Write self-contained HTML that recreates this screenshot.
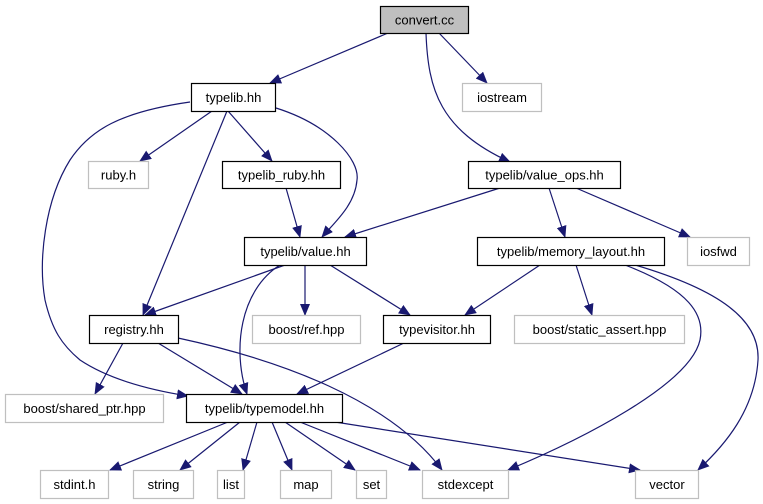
<!DOCTYPE html>
<html><head><meta charset="utf-8"><style>
html,body{margin:0;padding:0;background:#fff;}
svg{display:block;}
text{font-family:"Liberation Sans",sans-serif;font-size:13px;fill:#000;}
</style></head><body>
<svg width="763" height="504" viewBox="0 0 763 504" xmlns="http://www.w3.org/2000/svg">
<defs>
<marker id="a" markerWidth="12" markerHeight="10" refX="11" refY="5" orient="auto" markerUnits="userSpaceOnUse">
<polygon points="0,0 12,5 0,10" fill="#191970"/>
</marker>
</defs>
<g fill="none" stroke="#191970" stroke-width="1.2" marker-end="url(#a)">
<path d="M388,33 L270,83"/>
<path d="M439,33 L487,83"/>
<path d="M426,33 C428,90 440,130 510,162"/>
<path d="M212,111 L140,161"/>
<path d="M228,111 L272,161"/>
<path d="M276,108 C330,125 360,160 357,180 C355,205 335,222 322,237"/>
<path d="M227,111 L143,315"/>
<path d="M190,102 C120,112 90,130 70,160 C45,200 38,260 45,300 C52,330 62,345 80,360 C110,380 150,390 188,396"/>
<path d="M286,188 L300,237"/>
<path d="M500,188 L345,237"/>
<path d="M549,188 L565,237"/>
<path d="M576,188 L690,237"/>
<path d="M285,265 L145,315"/>
<path d="M305,265 L305,315"/>
<path d="M330,265 L410,315"/>
<path d="M280,265 C240,290 232,350 247,394"/>
<path d="M540,265 L465,315"/>
<path d="M576,265 L592,315"/>
<path d="M625,265 C690,290 705,315 700,340 C690,385 580,440 508,470"/>
<path d="M635,265 C720,290 760,320 758,360 C755,410 725,445 698,470"/>
<path d="M123,343 L95,394"/>
<path d="M158,343 L242,394"/>
<path d="M178,338 C280,360 390,400 442,470"/>
<path d="M404,343 L297,394"/>
<path d="M228,422 L110,470"/>
<path d="M240,422 L180,470"/>
<path d="M257,422 L243,470"/>
<path d="M272,422 L292,470"/>
<path d="M285,422 L355,470"/>
<path d="M300,422 L420,470"/>
<path d="M335,422 L640,470"/>
</g>
<g stroke-width="1.2">
<rect x="380.5" y="6.5" width="88" height="27" fill="#bfbfbf" stroke="#000"/>
<rect x="191.5" y="83.5" width="84" height="28" fill="#fff" stroke="#000"/>
<rect x="462.5" y="83.5" width="79" height="28" fill="#fff" stroke="#bfbfbf"/>
<rect x="88.5" y="161.5" width="60" height="27" fill="#fff" stroke="#bfbfbf"/>
<rect x="222.5" y="161.5" width="118" height="27" fill="#fff" stroke="#000"/>
<rect x="468.5" y="161.5" width="152" height="27" fill="#fff" stroke="#000"/>
<rect x="244.5" y="237.5" width="122" height="28" fill="#fff" stroke="#000"/>
<rect x="477.5" y="237.5" width="187" height="28" fill="#fff" stroke="#000"/>
<rect x="687.5" y="237.5" width="62" height="28" fill="#fff" stroke="#bfbfbf"/>
<rect x="89.5" y="315.5" width="89" height="28" fill="#fff" stroke="#000"/>
<rect x="252.5" y="315.5" width="108" height="28" fill="#fff" stroke="#bfbfbf"/>
<rect x="383.5" y="315.5" width="107" height="28" fill="#fff" stroke="#000"/>
<rect x="514.5" y="315.5" width="170" height="28" fill="#fff" stroke="#bfbfbf"/>
<rect x="5.5" y="394.5" width="158" height="28" fill="#fff" stroke="#bfbfbf"/>
<rect x="186.5" y="394.5" width="156" height="28" fill="#fff" stroke="#000"/>
<rect x="40.5" y="470.5" width="68" height="28" fill="#fff" stroke="#bfbfbf"/>
<rect x="133.5" y="470.5" width="60" height="28" fill="#fff" stroke="#bfbfbf"/>
<rect x="217.5" y="470.5" width="27" height="28" fill="#fff" stroke="#bfbfbf"/>
<rect x="280.5" y="470.5" width="51" height="28" fill="#fff" stroke="#bfbfbf"/>
<rect x="356.5" y="470.5" width="30" height="28" fill="#fff" stroke="#bfbfbf"/>
<rect x="422.5" y="470.5" width="86" height="28" fill="#fff" stroke="#bfbfbf"/>
<rect x="635.5" y="470.5" width="63" height="28" fill="#fff" stroke="#bfbfbf"/>
</g>
<g text-anchor="middle">
<text x="424.5" y="24.5">convert.cc</text>
<text x="233.5" y="102">typelib.hh</text>
<text x="502" y="102">iostream</text>
<text x="118.5" y="179.5">ruby.h</text>
<text x="281.5" y="179.5">typelib_ruby.hh</text>
<text x="544.5" y="179.5">typelib/value_ops.hh</text>
<text x="305.5" y="256">typelib/value.hh</text>
<text x="571" y="256">typelib/memory_layout.hh</text>
<text x="718.5" y="256">iosfwd</text>
<text x="134" y="334">registry.hh</text>
<text x="306.5" y="334">boost/ref.hpp</text>
<text x="437" y="334">typevisitor.hh</text>
<text x="599.5" y="334">boost/static_assert.hpp</text>
<text x="84.5" y="413">boost/shared_ptr.hpp</text>
<text x="264.5" y="413">typelib/typemodel.hh</text>
<text x="74.5" y="489">stdint.h</text>
<text x="163.5" y="489">string</text>
<text x="231" y="489">list</text>
<text x="306" y="489">map</text>
<text x="371.5" y="489">set</text>
<text x="465.5" y="489">stdexcept</text>
<text x="667" y="489">vector</text>
</g>
</svg>
</body></html>
